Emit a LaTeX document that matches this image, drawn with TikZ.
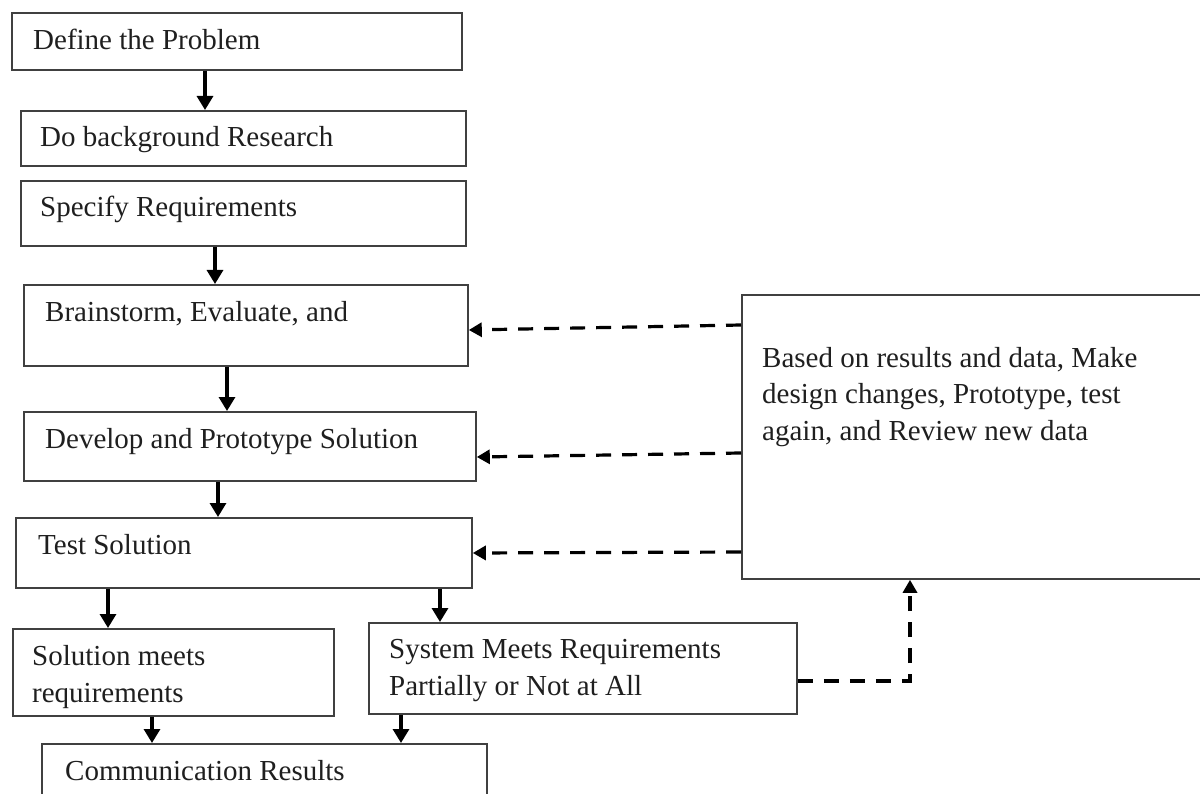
\documentclass[tikz,border=0pt]{standalone}
\usepackage{fontspec}
\setmainfont{Liberation Serif}
\usetikzlibrary{arrows.meta}
\begin{document}
\begin{tikzpicture}[x=1pt,y=-1pt,
  box/.style={draw=black!75, line width=1.8pt, anchor=north west, inner sep=0pt, fill=white},
  txt/.style={anchor=base west, inner sep=0pt, font=\fontsize{29}{36.5}\selectfont, text=black!88, align=left},
  arr/.style={line width=3.2pt, -{Triangle[length=14pt,width=16pt]}},
  darr/.style={line width=3.2pt, dash pattern=on 15pt off 11pt, -{Triangle[length=13pt,width=14pt]}}]
\clip (0,0) rectangle (1200,794);
\fill[white] (0,0) rectangle (1200,794);
% boxes
\node[box, minimum width=450pt, minimum height=57pt] (b1) at (11,12) {};
\node[box, minimum width=445pt, minimum height=55pt] (b2) at (20,110) {};
\node[box, minimum width=445pt, minimum height=65pt] (b3) at (20,180) {};
\node[box, minimum width=444pt, minimum height=81pt] (b4) at (23,284) {};
\node[box, minimum width=452pt, minimum height=69pt] (b5) at (23,411) {};
\node[box, minimum width=456pt, minimum height=70pt] (b6) at (15,517) {};
\node[box, minimum width=321pt, minimum height=87pt] (b7) at (12,628) {};
\node[box, minimum width=428pt, minimum height=91pt] (b8) at (368,622) {};
\node[box, minimum width=445pt, minimum height=80pt] (b9) at (41,743) {};
\node[box, minimum width=480pt, minimum height=284pt] (r) at (741,294) {};
% texts (multi-line nodes: base = last line)
\node[txt] (t1) at (33,50) {Define the Problem};
\node[txt] (t2) at (40,147) {Do background Research};
\node[txt] (t3) at (40,217) {Specify Requirements};
\node[txt] (t4) at (45,322) {Brainstorm, Evaluate, and};
\node[txt] (t5) at (45,448) {Develop and Prototype Solution};
\node[txt] (t6) at (38,554) {Test Solution};
\node[txt] (t7) at (32,702) {Solution meets\\requirements};
\node[txt] (t8) at (389,695) {System Meets Requirements\\Partially or Not at All};
\node[txt] (t9) at (65,780) {Communication Results};
\node[txt] (tr) at (762,440) {Based on results and data, Make\\design changes, Prototype, test\\again, and Review new data};
% solid arrows
\coordinate (a1) at (205,0);
\coordinate (a3) at (215,0);
\coordinate (a4) at (227,0);
\coordinate (a5) at (218,0);
\coordinate (a6) at (108,0);
\coordinate (a7) at (440,0);
\coordinate (a8) at (152,0);
\coordinate (a9) at (401,0);
\draw[arr] (b1.south -| a1) -- (b2.north -| a1);
\draw[arr] (b3.south -| a3) -- (b4.north -| a3);
\draw[arr] (b4.south -| a4) -- (b5.north -| a4);
\draw[arr] (b5.south -| a5) -- (b6.north -| a5);
\draw[arr] (b6.south -| a6) -- (b7.north -| a6);
\draw[arr] (b6.south -| a7) -- (b8.north -| a7);
\draw[arr] (b7.south -| a8) -- (b9.north -| a8);
\draw[arr] (b8.south -| a9) -- (b9.north -| a9);
% dashed feedback arrows
\coordinate (y1) at (0,325); \coordinate (y1e) at (0,330);
\coordinate (y2) at (0,453); \coordinate (y2e) at (0,457);
\coordinate (y3) at (0,552); \coordinate (y3e) at (0,553);
\draw[darr] (r.west |- y1) -- (b4.east |- y1e);
\draw[darr] (r.west |- y2) -- (b5.east |- y2e);
\draw[darr] (r.west |- y3) -- (b6.east |- y3e);
\coordinate (k) at (910,681);
\draw[darr] (b8.east |- k) -- (k) -- (k |- r.south);
\end{tikzpicture}
\end{document}
